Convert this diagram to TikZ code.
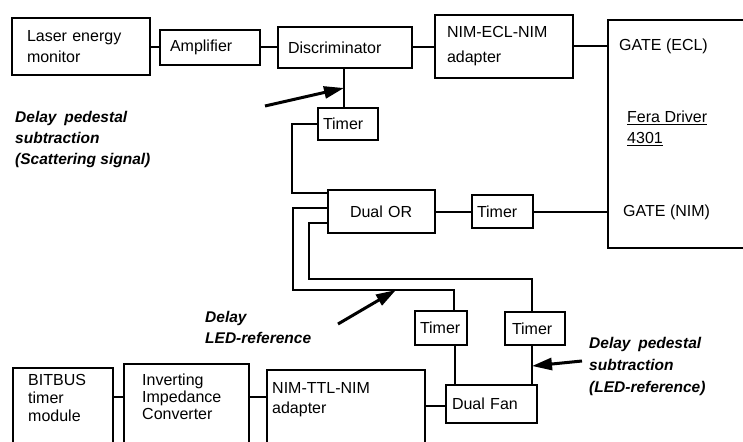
\documentclass[tikz,border=0pt]{standalone}
\usepackage{fontspec}
\setmainfont{Liberation Sans}
\usetikzlibrary{arrows.meta,calc}
\begin{document}
\begin{tikzpicture}[x=1pt,y=-1pt,
  box/.style={draw, line width=2pt, anchor=north west, outer sep=0pt, inner ysep=0pt, align=left, font=\fontsize{16}{21}\selectfont},
  wire/.style={line width=2pt},
  lbl/.style={anchor=north west, inner sep=0pt, align=left, font=\fontsize{15.5}{21}\selectfont\bfseries\itshape},
  txt/.style={inner sep=0pt, align=left, font=\fontsize{16}{21}\selectfont},
  pointer/.style={line width=3pt, -{Triangle[length=20pt,width=12pt]}}
]
\clip (0,0) rectangle (743,441);
% boxes
\node[box, text width=108pt, inner xsep=15pt, minimum height=57pt] (laser) at (12,18) {Laser energy\\monitor};
\node[box, text width=80pt, inner xsep=10pt, minimum height=35pt] (amp) at (160,30) {Amplifier};
\node[box, text width=114pt, inner xsep=10pt, minimum height=41pt] (disc) at (278,27) {Discriminator};
\node[box, text width=114pt, inner xsep=12pt, minimum height=63pt, font=\fontsize{16}{25}\selectfont] (necl) at (435,15) {NIM-ECL-NIM\\adapter};
\node[box, minimum width=170pt, minimum height=228pt] (fera) at (608,20) {};
\node[box, text width=50pt, inner xsep=5pt, minimum height=32pt] (t1) at (318,108) {Timer};
\node[box, text width=63pt, inner xsep=22pt, minimum height=43pt] (dualor) at (328,190) {Dual OR};
\node[box, text width=51pt, inner xsep=5pt, minimum height=33pt] (t2) at (472,195) {Timer};
\node[box, text width=42pt, inner xsep=5pt, minimum height=34pt] (t3) at (415,311) {Timer};
\node[box, text width=46pt, inner xsep=7pt, minimum height=33pt] (t4) at (505,312) {Timer};
\node[box, text width=79pt, inner xsep=6pt, minimum height=38pt] (fan) at (446,385) {Dual Fan};
\node[box, minimum width=100pt, minimum height=100pt] (bitbus) at (13,368) {};
\node[box, minimum width=125pt, minimum height=100pt] (inv) at (124,364) {};
\node[box, minimum width=158pt, minimum height=100pt] (nttl) at (267,370) {};
% texts in open boxes
\node[txt, anchor=north west, font=\fontsize{16}{18}\selectfont] (bitbusT) at (28,374) {BITBUS\\timer\\module};
\node[txt, anchor=north west, font=\fontsize{16}{17}\selectfont] (invT) at (142,374) {Inverting\\Impedance\\Converter};
\node[txt, anchor=north west, font=\fontsize{16}{20}\selectfont] (nttlT) at (272,382) {NIM-TTL-NIM\\adapter};
\node[txt, anchor=west] (gecl) at (619,46) {GATE (ECL)};
\node[txt, anchor=north west] (fdrv) at (627,111) {\underline{Fera Driver}\\\underline{4301}};
\node[txt, anchor=west] (gnim) at (623,212) {GATE (NIM)};
% labels
\node[lbl] (scat) at (15,111) {Delay\hspace{0.5em}pedestal\\subtraction\\(Scattering signal)};
\node[lbl] (ledl) at (205,311) {Delay\\LED-reference};
\node[lbl, font=\fontsize{15.5}{22}\selectfont\bfseries\itshape] (pedl) at (589,337) {Delay\hspace{0.5em}pedestal\\subtraction\\(LED-reference)};
% connectors
\draw[wire] (laser.east |- amp.west) -- (amp.west);
\draw[wire] (amp.east) -- (amp.east -| disc.west);
\draw[wire] (disc.east) -- (disc.east -| necl.west);
\draw[wire] (necl.east) -- (necl.east -| fera.west);
\coordinate (j1) at (344,88);
\draw[wire] (disc.south -| j1) -- (t1.north -| j1);
\draw[wire] (t1.west) -- ++(-26,0) |- ([yshift=-3pt]dualor.north west);
\draw[wire] ([yshift=-18pt]dualor.north west) -| (293,290) -| ([xshift=13pt]t3.north);
\draw[wire] ([yshift=-33pt]dualor.north west) -| (309,279) -| ([xshift=-3pt]t4.north);
\draw[wire] ([xshift=14pt]t3.south) -- ([xshift=14pt]t3.south |- fan.north);
\draw[wire] ([xshift=-3pt]t4.south) -- ([xshift=-3pt]t4.south |- fan.north);
\draw[wire] (dualor.east) -- (t2.west);
\draw[wire] (t2.east) -- (t2.east -| fera.west);
\coordinate (h1) at (0,397);
\coordinate (h2) at (0,406);
\draw[wire] (bitbus.east |- h1) -- (inv.west |- h1);
\draw[wire] (inv.east |- h1) -- (nttl.west |- h1);
\draw[wire] (nttl.east |- h2) -- (fan.west |- h2);
% pointers
\coordinate (a1) at (265,106);
\draw[pointer] (a1) -- (j1);
\coordinate (a2) at (338,324);
\coordinate (j2) at (396,290);
\draw[pointer] (a2) -- (j2);
\coordinate (a3) at (582,361);
\coordinate (j3) at (532,366);
\draw[pointer] (a3) -- (j3);
\end{tikzpicture}
\end{document}
